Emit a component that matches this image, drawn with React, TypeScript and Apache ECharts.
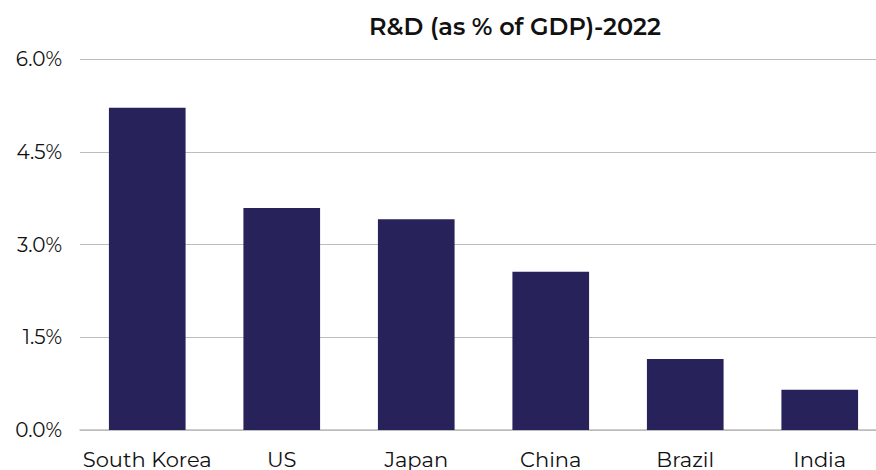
import React, { useEffect, useRef } from "react";
import * as echarts from "echarts";

const categories = ["South Korea", "US", "Japan", "China", "Brazil", "India"];
const rdValues = [5.21, 3.59, 3.41, 2.56, 1.15, 0.65];
const titleText = "R&D (as % of GDP)-2022";

export default function App() {
  const ref = useRef<HTMLDivElement>(null);
  useEffect(() => {
    if (!ref.current) return;
    const chart = echarts.init(ref.current, undefined, { renderer: "svg" });
    const font = "Montserrat, 'Noto Sans', Lato, sans-serif";
    chart.setOption({
      animation: false,
      title: {
        text: titleText,
        left: 510,
        top: 9,
        textAlign: "center",
        textStyle: { fontFamily: font, fontSize: 24, fontWeight: 600, color: "#111" },
      },
      grid: { left: 80, width: 807, top: 59, bottom: 40, containLabel: false, outerBoundsMode: "none" },
      xAxis: {
        type: "category",
        data: categories,
        axisTick: { show: false },
        axisLine: { lineStyle: { color: "#bdbdbd", width: 1.5 } },
        axisLabel: { fontFamily: font, fontSize: 21, color: "#111", margin: 19, interval: 0 },
      },
      yAxis: {
        type: "value",
        min: 0,
        max: 6,
        interval: 1.5,
        axisLabel: {
          fontFamily: font,
          fontSize: 20,
          color: "#111",
          margin: 18,
          formatter: (v: number) => v.toFixed(1) + "%",
        },
        splitLine: { lineStyle: { color: "#bdbdbd", width: 1 } },
        axisLine: { show: false },
        axisTick: { show: false },
      },
      series: [
        {
          type: "bar",
          data: rdValues,
          barWidth: "57%",
          itemStyle: { color: "#27225a" },
        },
      ],
    });
    return () => chart.dispose();
  }, []);
  return <div ref={ref} style={{ width: 876, height: 470, position: "absolute", left: 0, top: 0 }} />;
}
